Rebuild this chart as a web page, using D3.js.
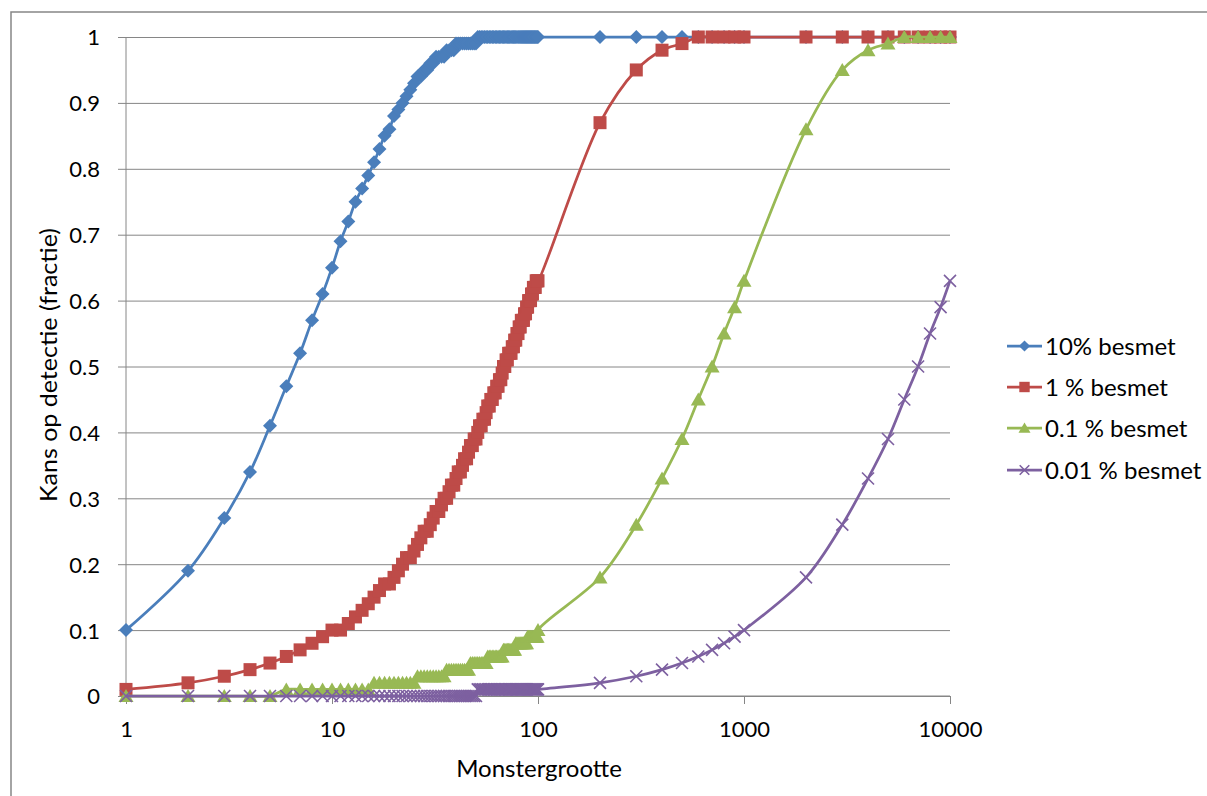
<!DOCTYPE html>
<html><head><meta charset="utf-8">
<script src="https://cdn.jsdelivr.net/npm/d3@7"></script>
<style>
html,body{margin:0;padding:0;background:#fff;}
svg{display:block;}
text{font-family:Lato,"Open Sans",sans-serif;fill:#000;}
</style></head>
<body>
<svg id="chart" width="1207" height="796"></svg>
<script>
// Sample sizes (x values, log axis)
const sampleSizes = [1,2,3,4,5,6,7,8,9,10,11,12,13,14,15,16,17,18,19,20,
21,22,23,24,25,26,27,28,29,30,31,32,33,34,35,36,37,38,39,40,
41,42,43,44,45,46,47,48,49,50,51,52,53,54,55,56,57,58,59,60,
61,62,63,64,65,66,67,68,69,70,71,72,73,74,75,76,77,78,79,80,
81,82,83,84,85,86,87,88,89,90,91,92,93,94,95,96,97,98,99,100,
200,300,400,500,600,700,800,900,1000,
2000,3000,4000,5000,6000,7000,8000,9000,10000];

const seriesNames = ["10% besmet","1 % besmet","0.1 % besmet","0.01 % besmet"];

const besmet10 = [0.10,0.19,0.27,0.34,0.41,0.47,0.52,0.57,0.61,0.65,
0.69,0.72,0.75,0.77,0.79,0.81,0.83,0.85,0.86,0.88,
0.89,0.90,0.91,0.92,0.93,0.94,0.94,0.95,0.95,0.96,
0.96,0.97,0.97,0.97,0.97,0.98,0.98,0.98,0.98,0.99,
0.99,0.99,0.99,0.99,0.99,0.99,0.99,0.99,0.99,0.99,
1,1,1,1,1,1,1,1,1,1,
1,1,1,1,1,1,1,1,1,1,
1,1,1,1,1,1,1,1,1,1,
1,1,1,1,1,1,1,1,1,1,
1,1,1,1,1,1,1,1,1,1,
1,1,1,1,1,1,1,1,1,
1,1,1,1,1,1,1,1,1];

const besmet1 = [0.01,0.02,0.03,0.04,0.05,0.06,0.07,0.08,0.09,0.10,
0.10,0.11,0.12,0.13,0.14,0.15,0.16,0.17,0.17,0.18,
0.19,0.20,0.21,0.21,0.22,0.23,0.24,0.25,0.25,0.26,
0.27,0.28,0.28,0.29,0.30,0.30,0.31,0.32,0.32,0.33,
0.34,0.34,0.35,0.36,0.36,0.37,0.38,0.38,0.39,0.39,
0.40,0.41,0.41,0.42,0.42,0.43,0.44,0.44,0.45,0.45,
0.46,0.46,0.47,0.47,0.48,0.48,0.49,0.50,0.50,0.51,
0.51,0.52,0.52,0.52,0.53,0.53,0.54,0.54,0.55,0.55,
0.56,0.56,0.57,0.57,0.57,0.58,0.58,0.59,0.59,0.60,
0.60,0.60,0.61,0.61,0.62,0.62,0.62,0.63,0.63,0.63,
0.87,0.95,0.98,0.99,1,1,1,1,1,
1,1,1,1,1,1,1,1,1];

const besmet01 = [0,0,0,0,0,0.01,0.01,0.01,0.01,0.01,
0.01,0.01,0.01,0.01,0.01,0.02,0.02,0.02,0.02,0.02,
0.02,0.02,0.02,0.02,0.02,0.03,0.03,0.03,0.03,0.03,
0.03,0.03,0.03,0.03,0.03,0.04,0.04,0.04,0.04,0.04,
0.04,0.04,0.04,0.04,0.04,0.04,0.05,0.05,0.05,0.05,
0.05,0.05,0.05,0.05,0.05,0.05,0.06,0.06,0.06,0.06,
0.06,0.06,0.06,0.06,0.06,0.06,0.06,0.07,0.07,0.07,
0.07,0.07,0.07,0.07,0.07,0.07,0.07,0.08,0.08,0.08,
0.08,0.08,0.08,0.08,0.08,0.08,0.08,0.08,0.09,0.09,
0.09,0.09,0.09,0.09,0.09,0.09,0.09,0.09,0.09,0.10,
0.18,0.26,0.33,0.39,0.45,0.50,0.55,0.59,0.63,
0.86,0.95,0.98,0.99,1,1,1,1,1];

const besmet001 = [0,0,0,0,0,0,0,0,0,0,
0,0,0,0,0,0,0,0,0,0,
0,0,0,0,0,0,0,0,0,0,
0,0,0,0,0,0,0,0,0,0,
0,0,0,0,0,0,0,0,0,0,
0.01,0.01,0.01,0.01,0.01,0.01,0.01,0.01,0.01,0.01,
0.01,0.01,0.01,0.01,0.01,0.01,0.01,0.01,0.01,0.01,
0.01,0.01,0.01,0.01,0.01,0.01,0.01,0.01,0.01,0.01,
0.01,0.01,0.01,0.01,0.01,0.01,0.01,0.01,0.01,0.01,
0.01,0.01,0.01,0.01,0.01,0.01,0.01,0.01,0.01,0.01,
0.02,0.03,0.04,0.05,0.06,0.07,0.08,0.09,0.10,
0.18,0.26,0.33,0.39,0.45,0.50,0.55,0.59,0.63];

const xTickValues = [1,10,100,1000,10000];
const yTickValues = [0,0.1,0.2,0.3,0.4,0.5,0.6,0.7,0.8,0.9,1];
const xTitle = "Monstergrootte";
const yTitle = "Kans op detectie (fractie)";

const colors = ["#4A7EBB","#BE4B48","#98B954","#7D60A0"];
const markerTypes = ["diamond","square","triangle","cross"];
const seriesValues = [besmet10, besmet1, besmet01, besmet001];

const svg = d3.select("#chart");
const plot = {left:126, right:950, top:37, bottom:696};
const x = d3.scaleLog().domain([1,10000]).range([plot.left, plot.right]);
const y = d3.scaleLinear().domain([0,1]).range([plot.bottom, plot.top]);
const gridColor = "#868686";

// outer chart border
svg.append("rect").attr("x",11).attr("y",12).attr("width",1300).attr("height",900)
  .attr("fill","none").attr("stroke",gridColor).attr("stroke-width",1.5);

// horizontal gridlines via y axis
const yAxis = d3.axisLeft(y).tickValues(yTickValues)
  .tickSize(-(plot.right - plot.left)).tickPadding(18)
  .tickFormat(d => d === 0 ? "0" : d === 1 ? "1" : d3.format(".1f")(d));
const gy = svg.append("g").attr("transform",`translate(${plot.left},0)`).call(yAxis);
gy.select(".domain").remove();
gy.selectAll(".tick line").attr("stroke",gridColor).attr("stroke-width",1)
  .attr("x1",-8).attr("x2",plot.right-plot.left);
gy.selectAll(".tick text").attr("font-size",22).attr("font-family","Lato").attr("fill","#000").attr("dy","0.36em").attr("x",-26);

// vertical axis line
svg.append("line").attr("x1",plot.left).attr("x2",plot.left).attr("y1",plot.top).attr("y2",plot.bottom)
  .attr("stroke",gridColor).attr("stroke-width",1);

// x axis
const xAxis = d3.axisBottom(x).tickValues(xTickValues).tickSize(8).tickPadding(17)
  .tickFormat(d3.format("d"));
const gx = svg.append("g").attr("transform",`translate(0,${plot.bottom})`).call(xAxis);
gx.select(".domain").attr("stroke",gridColor).attr("d",`M${plot.left},0H${plot.right}`);
gx.selectAll(".tick line").attr("stroke",gridColor);
gx.selectAll(".tick text").attr("font-size",22).attr("font-family","Lato").attr("fill","#000");

// titles
svg.append("text").attr("x",539).attr("y",777).attr("text-anchor","middle")
  .attr("font-size",24).text(xTitle);
svg.append("text").attr("transform","translate(57,365) rotate(-90)").attr("text-anchor","middle")
  .attr("font-size",23).attr("textLength",274).attr("lengthAdjust","spacingAndGlyphs").text(yTitle);

// marker drawer
function drawMarker(g, type, color, cx, cy, s){
  s = s || 1;
  if(type==="diamond"){
    const r = 7*s;
    g.append("path").attr("d",`M${cx},${cy-r}L${cx+r},${cy}L${cx},${cy+r}L${cx-r},${cy}Z`).attr("fill",color);
  } else if(type==="square"){
    const h = 6.5*s;
    g.append("rect").attr("x",cx-h).attr("y",cy-h).attr("width",2*h).attr("height",2*h).attr("fill",color);
  } else if(type==="triangle"){
    g.append("path").attr("d",`M${cx},${cy-7*s}L${cx+7.5*s},${cy+6*s}L${cx-7.5*s},${cy+6*s}Z`).attr("fill",color);
  } else {
    const h = 6*s;
    g.append("path").attr("d",`M${cx-h},${cy-h}L${cx+h},${cy+h}M${cx-h},${cy+h}L${cx+h},${cy-h}`)
      .attr("stroke",color).attr("stroke-width",1.6).attr("fill","none");
  }
}

const line = d3.line().x(d=>x(d[0])).y(d=>y(d[1])).curve(d3.curveCatmullRom.alpha(0.5));

seriesValues.forEach((vals,i)=>{
  const pts = sampleSizes.map((n,j)=>[n, vals[j]]);
  const g = svg.append("g");
  g.append("path").attr("d",line(pts)).attr("fill","none").attr("stroke",colors[i])
    .attr("stroke-width",2.75).attr("stroke-linejoin","round");
  pts.forEach(p=>drawMarker(g, markerTypes[i], colors[i], x(p[0]), y(p[1])));
});

// legend
const legendY = [346,387,428,470];
seriesNames.forEach((name,i)=>{
  const g = svg.append("g");
  g.append("line").attr("x1",1007).attr("x2",1042).attr("y1",legendY[i]).attr("y2",legendY[i])
    .attr("stroke",colors[i]).attr("stroke-width",2.75);
  drawMarker(g, markerTypes[i], colors[i], 1024.5, legendY[i], 0.8);
  g.append("text").attr("x",1045).attr("y",legendY[i]).attr("dy","0.36em")
    .attr("font-size",24).text(name);
});
</script>
</body></html>
